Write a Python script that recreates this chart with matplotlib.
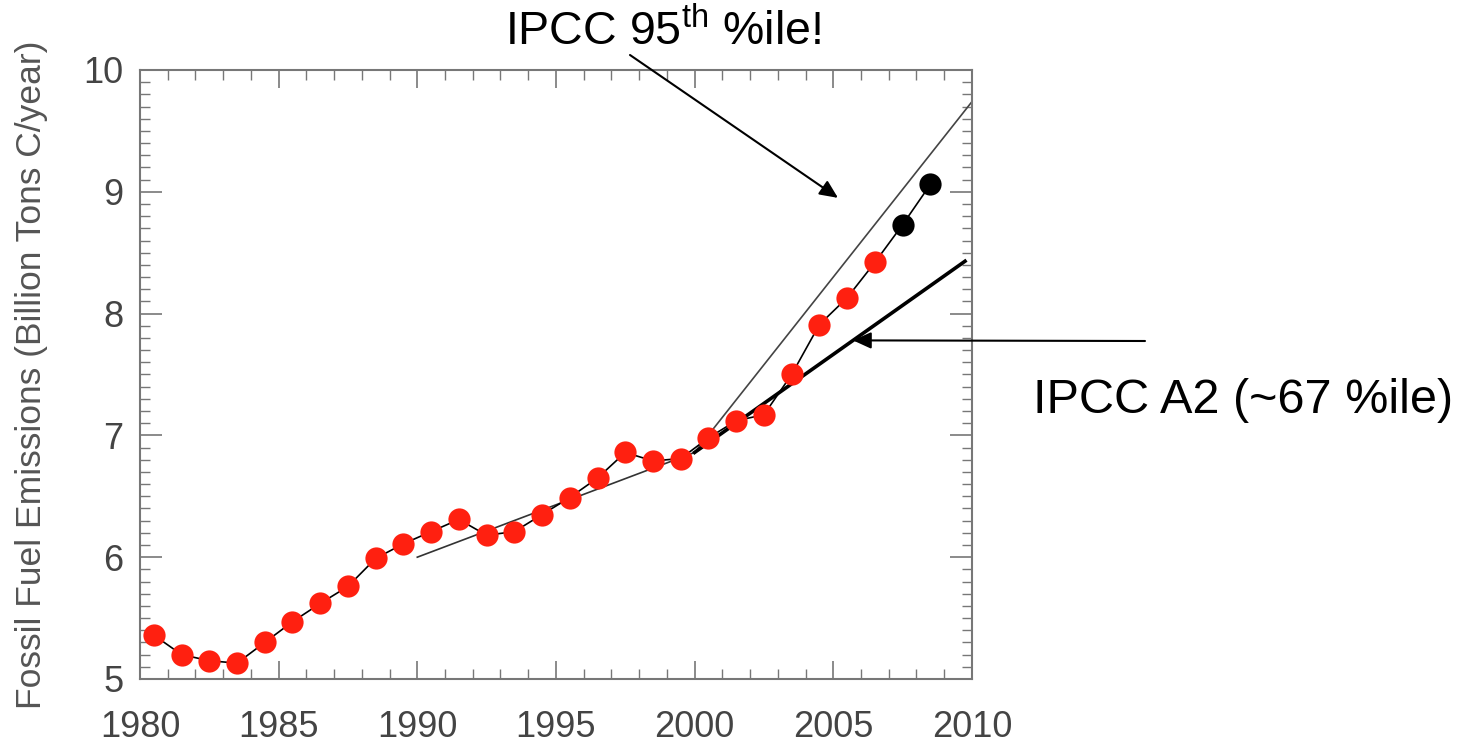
import matplotlib
matplotlib.use('Agg')
import matplotlib.pyplot as plt
from matplotlib.ticker import MultipleLocator

plt.rcParams['font.family'] = ['Liberation Sans', 'DejaVu Sans']
plt.rcParams['mathtext.fontset'] = 'custom'
plt.rcParams['mathtext.rm'] = 'Liberation Sans'

# 化石燃料排放量 (十亿吨碳/年)
years = [1980, 1981, 1982, 1983, 1984, 1985, 1986, 1987, 1988, 1989,
         1990, 1991, 1992, 1993, 1994, 1995, 1996, 1997, 1998, 1999,
         2000, 2001, 2002, 2003, 2004, 2005, 2006]
emissions = [5.36, 5.20, 5.15, 5.13, 5.30, 5.47, 5.62, 5.76, 5.99, 6.11,
             6.21, 6.31, 6.18, 6.21, 6.35, 6.49, 6.65, 6.86, 6.79, 6.81,
             6.98, 7.12, 7.17, 7.50, 7.91, 8.13, 8.42]
recent_years = [2007, 2008]
recent_emissions = [8.73, 9.06]

# IPCC 情景线
base_x = [1990, 2000]
base_y = [6.00, 6.86]
p95_x = [2000, 2010]
p95_y = [6.86, 9.74]
a2_x = [2000, 2009.75]
a2_y = [6.86, 8.43]

fig = plt.figure(figsize=(14.64, 7.51), dpi=100)
ax = fig.add_axes([0.0956, 0.0959, 0.5683, 0.8109])

all_x = [y + 0.5 for y in years + recent_years]
all_y = emissions + recent_emissions
ax.plot(base_x, base_y, color='#333333', lw=1.2)
ax.plot(p95_x, p95_y, color='#444444', lw=1.2)
ax.plot(a2_x, a2_y, color='black', lw=2.6)
ax.plot(all_x, all_y, color='black', lw=1.2, zorder=3)
ax.plot([y + 0.5 for y in years], emissions, 'o', color='#ff2010',
        markersize=16, markeredgewidth=0, zorder=4)
ax.plot([y + 0.5 for y in recent_years], recent_emissions, 'o', color='black',
        markersize=16, markeredgewidth=0, zorder=4)

ax.set_xlim(1980, 2010)
ax.set_ylim(5, 10)
ax.xaxis.set_major_locator(MultipleLocator(5))
ax.xaxis.set_minor_locator(MultipleLocator(1))
ax.yaxis.set_major_locator(MultipleLocator(1))
ax.yaxis.set_minor_locator(MultipleLocator(0.1))
ax.tick_params(which='both', direction='in', top=True, right=True,
               colors='#777777', labelcolor='#444444', labelsize=26)
ax.tick_params(axis='x', which='major', length=13, width=1.2, pad=22)
ax.tick_params(axis='x', which='minor', length=7, width=1)
ax.tick_params(axis='y', which='major', length=16, width=1.2, pad=12)
ax.tick_params(axis='y', which='minor', length=7, width=1)
for s in ax.spines.values():
    s.set_color('#777777')
    s.set_linewidth(1.5)

ax.set_ylabel('Fossil Fuel Emissions (Billion Tons C/year)', fontsize=25.5,
              color='#555555', labelpad=25)

# 注释箭头
arrow_style = dict(arrowstyle='-|>,head_length=1.1,head_width=0.5',
                   color='black', lw=1.5, shrinkA=0, shrinkB=0)
ax.annotate('', xy=(2005.17, 8.95), xycoords='data',
            xytext=(630 / 1464, 1 - 55 / 751), textcoords='figure fraction',
            arrowprops=arrow_style, annotation_clip=False)
ax.annotate('', xy=(2005.71, 7.78), xycoords='data',
            xytext=(1145 / 1464, 1 - 341 / 751), textcoords='figure fraction',
            arrowprops=arrow_style, annotation_clip=False)

fig.text(505 / 1464, 1 - 32 / 751, r'IPCC 95$^{\mathrm{th}}$ %ile!', fontsize=33.5,
         ha='left', va='center')
fig.text(1033 / 1464, 1 - 400 / 751, 'IPCC A2 (~67 %ile)', fontsize=35,
         ha='left', va='center')

plt.savefig('out.png', dpi=100)
